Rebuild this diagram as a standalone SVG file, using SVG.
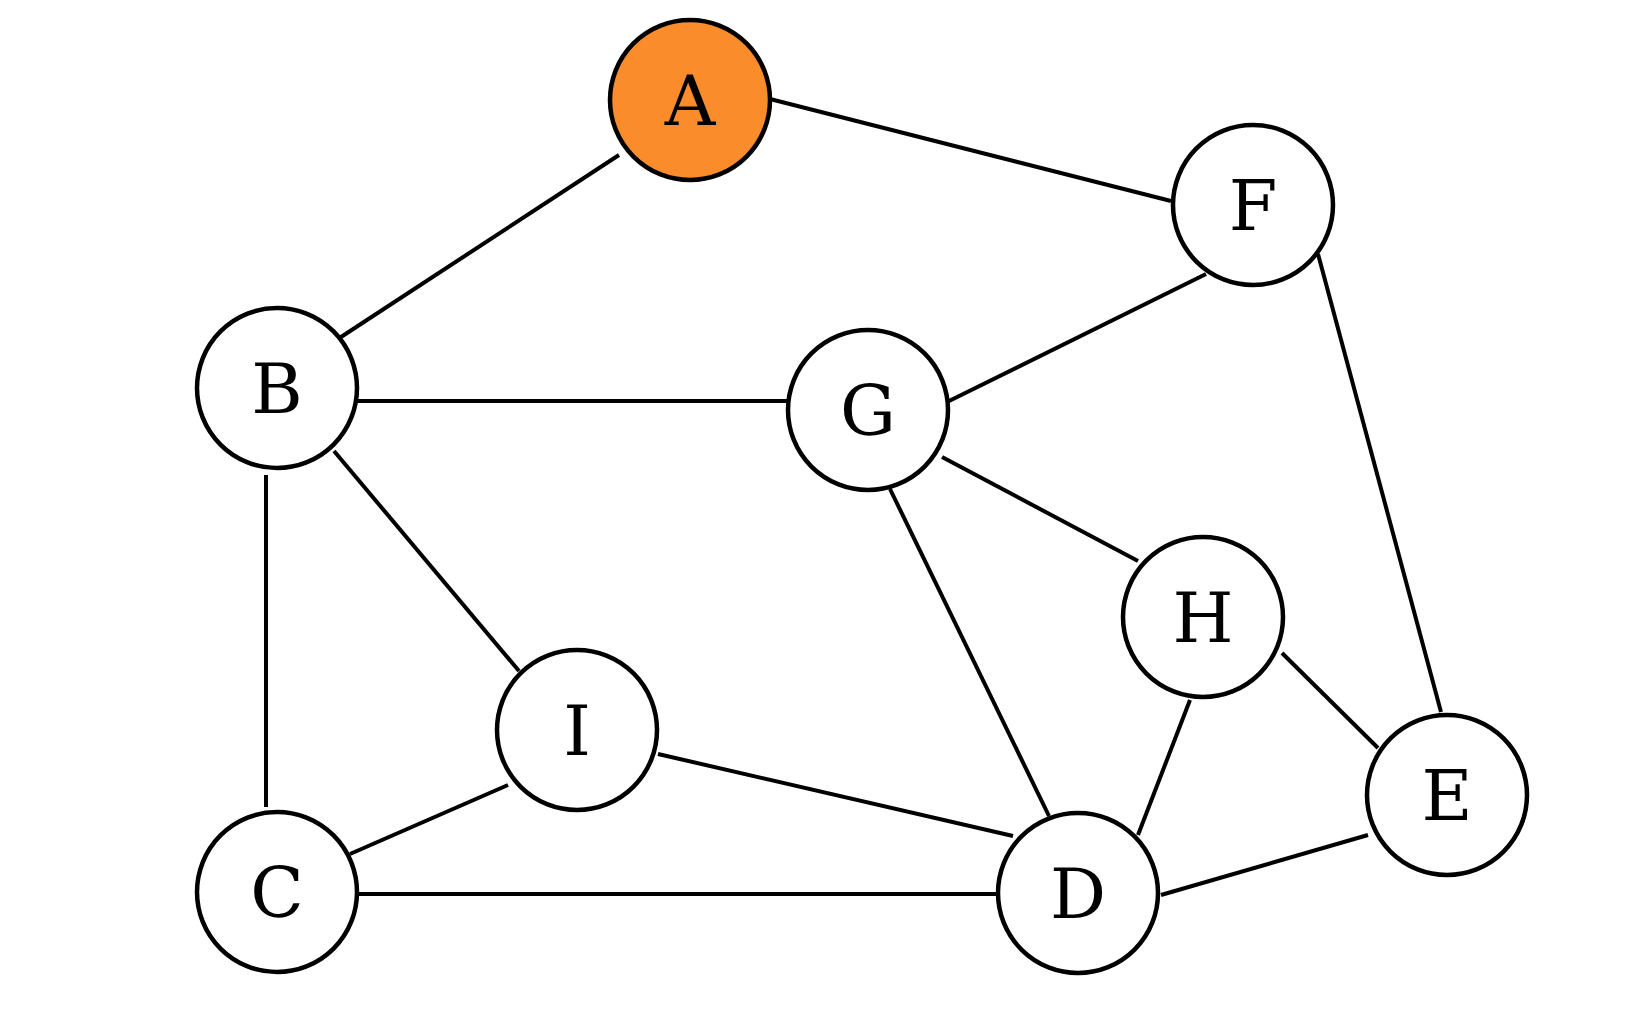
<svg xmlns="http://www.w3.org/2000/svg" width="1637" height="1027" viewBox="0 0 1637 1027">
<style>
.n circle{fill:#ffffff;stroke:#000;stroke-width:4.5}
.n.hl circle{fill:#FA8C2C}
.n text{font-family:"DejaVu Serif",serif;font-size:70px;text-anchor:middle;fill:#000}
#edges line{stroke:#000;stroke-width:4;stroke-linecap:butt}
</style>
<rect width="1637" height="1027" fill="#ffffff"/>
<g id="edges">
<line x1="619" y1="155" x2="341" y2="337"/>
<line x1="770" y1="99" x2="1171" y2="201"/>
<line x1="357" y1="401" x2="787" y2="401"/>
<line x1="334" y1="451" x2="519" y2="671"/>
<line x1="266" y1="475" x2="266" y2="807"/>
<line x1="1206" y1="274" x2="945" y2="403"/>
<line x1="1318" y1="254" x2="1441" y2="712"/>
<line x1="942" y1="457" x2="1138" y2="561"/>
<line x1="890" y1="489" x2="1049" y2="816"/>
<line x1="1190" y1="700" x2="1138" y2="835"/>
<line x1="1282" y1="653" x2="1378" y2="748"/>
<line x1="508" y1="785" x2="350" y2="854"/>
<line x1="658" y1="754" x2="1013" y2="836"/>
<line x1="357" y1="894" x2="997" y2="894"/>
<line x1="1161" y1="895" x2="1368" y2="835"/>
</g>
<g id="node-A" class="n hl"><circle cx="690" cy="100" r="80"/><text x="690" y="125">A</text></g>
<g id="node-B" class="n"><circle cx="277" cy="388" r="80"/><text x="277" y="413">B</text></g>
<g id="node-G" class="n"><circle cx="868" cy="410" r="80"/><text x="868" y="435">G</text></g>
<g id="node-F" class="n"><circle cx="1253" cy="205" r="80"/><text x="1253" y="230">F</text></g>
<g id="node-H" class="n"><circle cx="1203" cy="617" r="80"/><text x="1203" y="642">H</text></g>
<g id="node-I" class="n"><circle cx="577" cy="730" r="80"/><text x="577" y="755">I</text></g>
<g id="node-C" class="n"><circle cx="277" cy="892" r="80"/><text x="277" y="917">C</text></g>
<g id="node-D" class="n"><circle cx="1078" cy="893" r="80"/><text x="1078" y="918">D</text></g>
<g id="node-E" class="n"><circle cx="1447" cy="795" r="80"/><text x="1447" y="820">E</text></g>
</svg>
